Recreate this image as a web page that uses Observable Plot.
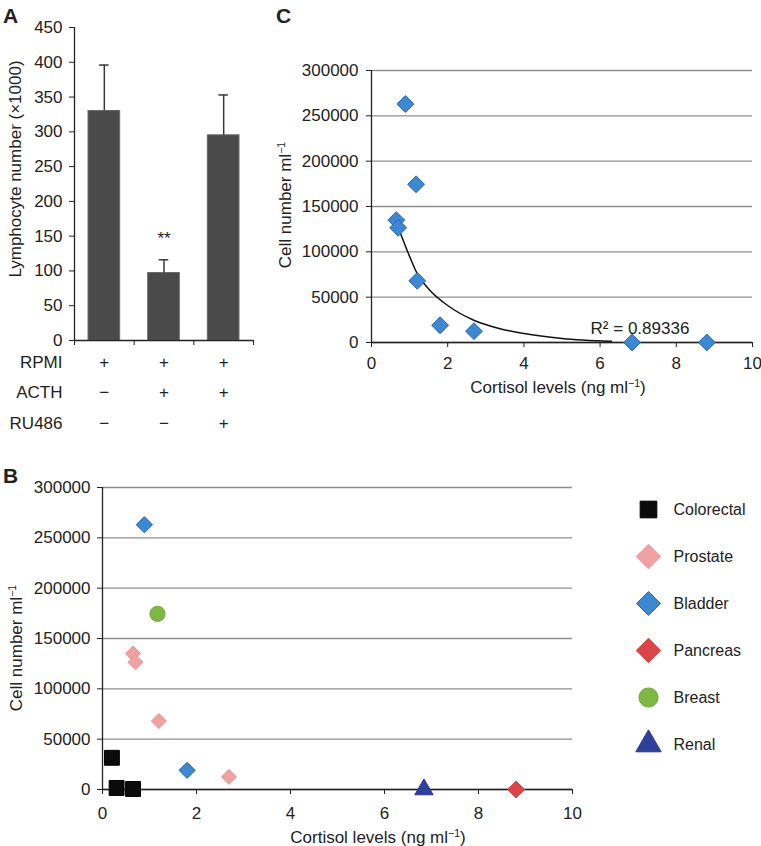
<!DOCTYPE html>
<html><head><meta charset="utf-8">
<script src="https://cdn.jsdelivr.net/npm/d3@7"></script>
<script src="https://cdn.jsdelivr.net/npm/@observablehq/plot@0.6"></script>
<style>
body{margin:0;background:#fff;}
#fig{position:relative;width:761px;height:846px;font-family:"Liberation Sans",Arial,sans-serif;color:#222;overflow:hidden;background:#fff}
#fig svg{position:absolute;overflow:visible}
.t{position:absolute;white-space:nowrap;font-size:17px;transform:translate(-50%,-50%);line-height:1}
.t.rot{transform:translate(-50%,-50%) rotate(-90deg)}
.panel{position:absolute;font-weight:bold;font-size:21px;line-height:1}
sup{font-size:0.62em;vertical-align:0.55em;line-height:0}
</style></head><body><div id="fig"></div>
<script>
// ---------- Panel A data ----------
const conditions = ["Control", "ACTH", "ACTH + RU486"];
const lymphMean = [330, 97, 295];
const lymphUpper = [396, 116, 353];
const sigLabels = ["", "**", ""];
const rowLabels = ["RPMI", "ACTH", "RU486"];
const rpmiSigns = ["+", "+", "+"];
const acthSigns = ["\u2212", "+", "+"];
const ru486Signs = ["\u2212", "\u2212", "+"];
const yTicksA = [0, 50, 100, 150, 200, 250, 300, 350, 400, 450];

// ---------- Panel B / C data ----------
const tumourTypes = ["Colorectal", "Prostate", "Bladder", "Pancreas", "Breast", "Renal"];
const pointType = ["Colorectal", "Colorectal", "Colorectal", "Prostate", "Prostate", "Prostate", "Prostate", "Bladder", "Bladder", "Pancreas", "Breast", "Renal"];
const cortisol  = [0.2, 0.3, 0.65, 0.65, 0.7, 1.2, 2.69, 0.89, 1.8, 8.8, 1.17, 6.84];
const cellCount = [31500, 1500, 500, 135000, 126500, 68000, 12500, 263000, 19000, 0, 174500, 0];
const yTicksCells = [0, 50000, 100000, 150000, 200000, 250000, 300000];
const xTicksCortisol = [0, 2, 4, 6, 8, 10];
// trend line in panel C
const fitX = [0.72, 1.0, 1.2, 1.5, 2.0, 2.7, 3.3, 4.0, 5.0, 6.3];
const fitY = [125000, 95000, 76000, 59000, 40800, 24300, 16000, 9900, 4500, 1300];
const rSquaredText = "R\u00b2 = 0.89336";

// ---------- styles ----------
const typeStyle = {
  Colorectal: {symbol: "square",   fill: "#0b0b0b", stroke: "#000",    rB: 8.4, rL: 9.4},
  Prostate:   {symbol: "diamond2", fill: "#f0a1a4", stroke: "#e89598", rB: 6.8, rL: 11.0},
  Bladder:    {symbol: "diamond2", fill: "#3d88d2", stroke: "#2766a8", rB: 7.3, rL: 10.8},
  Pancreas:   {symbol: "diamond2", fill: "#da4648", stroke: "#c93c3e", rB: 7.6, rL: 11.0},
  Breast:     {symbol: "circle",   fill: "#7cb843", stroke: "#6ea83a", rB: 7.6, rL: 9.6},
  Renal:      {symbol: "triangle", fill: "#2f3f9c", stroke: "#27348a", rB: 6.8, rL: 9.4}
};
const font = '"Liberation Sans", Arial, sans-serif';
const ink = "#222";
const gridColor = "#8f8f8f";
const tickFont = 17;

const fig = document.getElementById("fig");
function place(el, left, top) {
  el.style.left = left + "px"; el.style.top = top + "px"; el.style.position = "absolute";
  fig.appendChild(el);
}
function label(html, x, y, cls) {
  const d = document.createElement("div");
  d.className = "t" + (cls ? " " + cls : "");
  d.innerHTML = html;
  d.style.left = x + "px"; d.style.top = y + "px";
  fig.appendChild(d);
}
function panelLetter(txt, x, y) {
  const d = document.createElement("div");
  d.className = "panel"; d.textContent = txt;
  d.style.left = x + "px"; d.style.top = y + "px";
  fig.appendChild(d);
}

// ---------- Panel A ----------
const barsA = conditions.map((c, i) => ({i, c, mean: lymphMean[i], upper: lymphUpper[i], sig: sigLabels[i]}));
const signRows = [rpmiSigns, acthSigns, ru486Signs];
const rowMarks = [];
signRows.forEach((signs, k) => {
  const dy = 27 + k * 30.5;
  rowMarks.push(Plot.text(signs, {x: (d, i) => i + 0.5, text: d => d, frameAnchor: "bottom", dy, fontSize: 17, fill: ink}));
  rowMarks.push(Plot.text([rowLabels[k]], {text: d => d, frameAnchor: "bottom-left", textAnchor: "end", dx: -12, dy, fontSize: 17, fill: ink}));
});
const plotA = Plot.plot({
  width: 265, height: 450,
  marginLeft: 74, marginRight: 12, marginTop: 27, marginBottom: 110,
  style: {fontFamily: font, fontSize: "17px", color: ink, background: "transparent"},
  x: {domain: [0, 3], label: null},
  y: {domain: [0, 450], label: null},
  marks: [
    Plot.rectY(barsA, {x1: d => d.i, x2: d => d.i + 1, y: "mean", insetLeft: 14, insetRight: 14, fill: "#4a4a4a", stroke: "#6a6a6a", strokeWidth: 1}),
    Plot.ruleX(barsA, {x: d => d.i + 0.5, y1: "mean", y2: "upper", stroke: "#3a3a3a", strokeWidth: 1.5}),
    Plot.ruleY(barsA, {y: "upper", x1: d => d.i + 0.42, x2: d => d.i + 0.58, stroke: "#3a3a3a", strokeWidth: 1.5}),
    Plot.text(barsA.filter(d => d.sig), {x: d => d.i + 0.5, y: "upper", text: "sig", dy: -21, fontSize: 17, fill: ink}),
    Plot.axisY({ticks: yTicksA, tickSize: 5, tickPadding: 7, label: null, fontSize: tickFont}),
    Plot.axisX({ticks: [0, 1, 2, 3], tickSize: 5, tickFormat: () => "", label: null}),
    Plot.ruleX([0], {stroke: ink, strokeWidth: 1.3}),
    Plot.ruleY([0], {stroke: ink, strokeWidth: 1.3}),
    ...rowMarks
  ]
});
place(plotA, 0, 0);
panelLetter("A", 3, 5);
label("Lymphocyte number (\u00d71000)", 15, 169, "rot");

// ---------- shared for B and C ----------
const points = pointType.map((t, i) => ({type: t, cortisol: cortisol[i], cells: cellCount[i]}));

// ---------- Panel C ----------
const pointsC = points.filter(d => d.type !== "Colorectal");
const fitLine = fitX.map((x, i) => ({x, y: fitY[i]}));
const plotC = Plot.plot({
  width: 491, height: 420,
  marginLeft: 101, marginRight: 9, marginTop: 70, marginBottom: 78,
  style: {fontFamily: font, fontSize: "17px", color: ink, background: "transparent"},
  x: {domain: [0, 10], label: null},
  y: {domain: [0, 300000], label: null},
  marks: [
    Plot.gridY({ticks: yTicksCells, stroke: gridColor, strokeOpacity: 1, strokeWidth: 1.3}),
    Plot.axisY({ticks: yTicksCells, tickSize: 5, tickPadding: 8, tickFormat: d => String(d), label: null, fontSize: tickFont}),
    Plot.axisX({ticks: xTicksCortisol, tickSize: 5, tickPadding: 9, tickFormat: d => String(d), label: null, fontSize: tickFont}),
    Plot.ruleX([0], {stroke: ink, strokeWidth: 1.3}),
    Plot.ruleY([0], {stroke: ink, strokeWidth: 1.5}),
    Plot.line(fitLine, {x: "x", y: "y", curve: "monotone-x", stroke: "#111", strokeWidth: 1.5}),
    Plot.dot(pointsC, {x: "cortisol", y: "cells", symbol: "diamond2", r: 7.6, fill: typeStyle.Bladder.fill, stroke: typeStyle.Bladder.stroke, strokeWidth: 1}),
    Plot.text([rSquaredText], {x: 5.75, y: 9000, text: d => d, textAnchor: "start", lineAnchor: "bottom", fontSize: 17, fill: ink})
  ]
});
place(plotC, 270, 0);
panelLetter("C", 276, 5);
label("Cell number ml<sup>\u22121</sup>", 285, 205, "rot");
label("Cortisol levels (ng ml<sup>\u22121</sup>)", 558, 387);

// ---------- Panel B ----------
const dotMarksB = tumourTypes.map(t => {
  const s = typeStyle[t];
  return Plot.dot(points.filter(d => d.type === t), {x: "cortisol", y: "cells", symbol: s.symbol, r: s.rB, fill: s.fill, stroke: s.stroke, strokeWidth: 1});
});
const plotB = Plot.plot({
  width: 600, height: 376,
  marginLeft: 102, marginRight: 28, marginTop: 17, marginBottom: 57,
  style: {fontFamily: font, fontSize: "17px", color: ink, background: "transparent"},
  x: {domain: [0, 10], label: null},
  y: {domain: [0, 300000], label: null},
  marks: [
    Plot.gridY({ticks: yTicksCells, stroke: gridColor, strokeOpacity: 1, strokeWidth: 1.3}),
    Plot.axisY({ticks: yTicksCells, tickSize: 5, tickPadding: 7, tickFormat: d => String(d), label: null, fontSize: tickFont}),
    Plot.axisX({ticks: xTicksCortisol, tickSize: 5, tickPadding: 12, tickFormat: d => String(d), label: null, fontSize: tickFont}),
    Plot.ruleX([0], {stroke: ink, strokeWidth: 1.3}),
    Plot.ruleY([0], {stroke: ink, strokeWidth: 1.5}),
    ...dotMarksB
  ]
});
place(plotB, 0, 470);
panelLetter("B", 3, 465);
label("Cell number ml<sup>\u22121</sup>", 16, 648, "rot");
label("Cortisol levels (ng ml<sup>\u22121</sup>)", 378, 837);

// ---------- Legend for B ----------
const legendMarks = tumourTypes.map(t => {
  const s = typeStyle[t];
  return Plot.dot([t], {y: d => d, frameAnchor: "left", dx: 58, symbol: s.symbol, r: s.rL, fill: s.fill, stroke: s.stroke, strokeWidth: 1});
});
const plotLegend = Plot.plot({
  width: 171, height: 290,
  marginLeft: 0, marginRight: 0, marginTop: 28, marginBottom: 25,
  style: {fontFamily: font, fontSize: "16px", color: ink, background: "transparent"},
  y: {type: "point", domain: tumourTypes, padding: 0, axis: null},
  marks: [
    ...legendMarks,
    Plot.text(tumourTypes, {y: d => d, text: d => d, frameAnchor: "left", dx: 83, textAnchor: "start", fontSize: 16, fill: ink})
  ]
});
place(plotLegend, 590, 480);
</script></body></html>
